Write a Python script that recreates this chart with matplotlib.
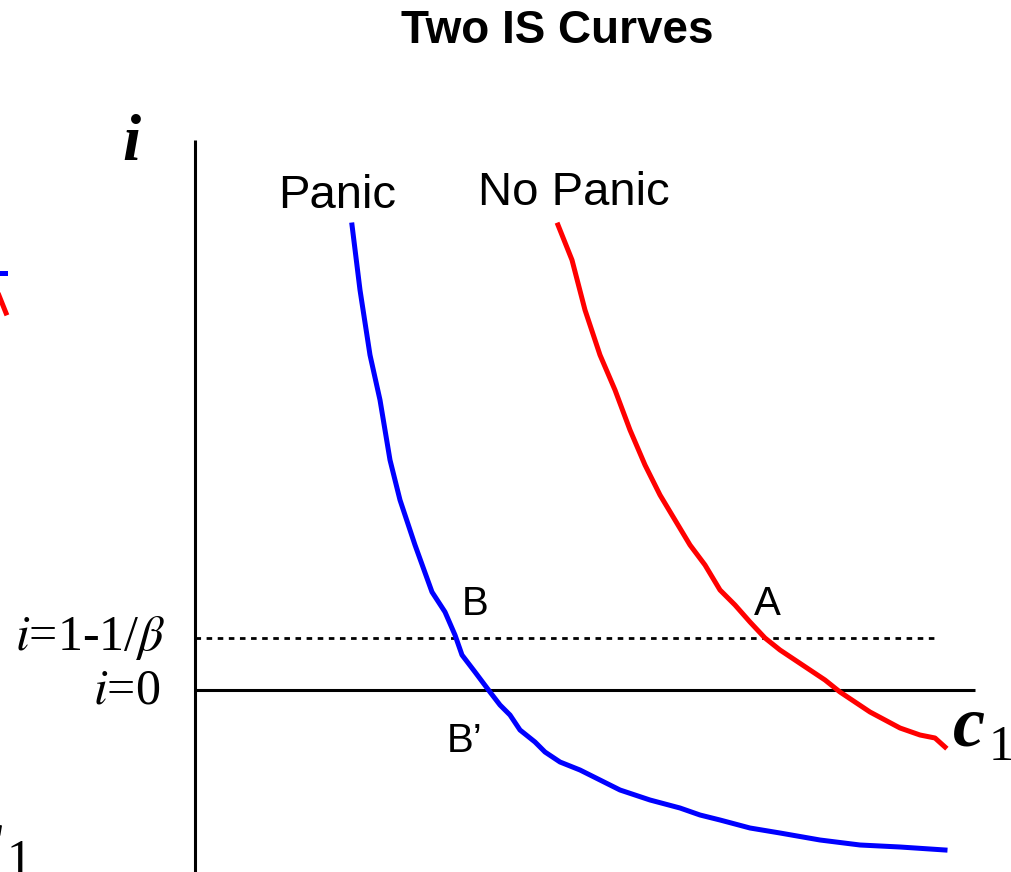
import matplotlib.pyplot as plt

# c1 and i values (c1 = 0 at the vertical axis, i = 0 at the horizontal axis)
panic_c = [1.57, 1.65, 1.75, 1.85, 1.95, 2.05, 2.2, 2.37, 2.5, 2.6, 2.67, 2.8, 2.95, 3.05,
           3.15, 3.25, 3.4, 3.5, 3.65, 3.85, 4.05, 4.25, 4.55, 4.85, 5.05, 5.25, 5.55, 5.85,
           6.25, 6.65, 7.05, 7.5]
panic_i = [4.65, 4.0, 3.35, 2.9, 2.3, 1.9, 1.45, 0.98, 0.78, 0.55, 0.35, 0.18, -0.02, -0.15,
           -0.25, -0.4, -0.52, -0.62, -0.72, -0.8, -0.9, -1.0, -1.1, -1.18, -1.25, -1.3, -1.38,
           -1.43, -1.5, -1.55, -1.57, -1.6]

nopanic_c = [3.63, 3.77, 3.9, 4.05, 4.2, 4.35, 4.5, 4.65, 4.8, 4.95, 5.1, 5.25, 5.4, 5.55,
             5.7, 5.85, 6.0, 6.15, 6.3, 6.45, 6.6, 6.75, 6.9, 7.05, 7.25, 7.4, 7.5]
nopanic_i = [4.65, 4.3, 3.8, 3.35, 3.0, 2.6, 2.25, 1.95, 1.7, 1.45, 1.25, 1.0, 0.85, 0.68,
             0.52, 0.4, 0.3, 0.2, 0.1, -0.02, -0.12, -0.22, -0.3, -0.38, -0.45, -0.48, -0.57]

i_beta = 0.52  # i = 1 - 1/beta
c_max = 7.8
i_top = 5.5

fig = plt.figure(figsize=(10.12, 8.72), dpi=100)
ax = fig.add_axes([0, 0, 1, 1])
ax.set_xlim(-1.95, 8.17)
ax.set_ylim(-1.82, 6.9)
ax.axis("off")

sans = "Liberation Sans"
serif = "Liberation Serif"

# axes
ax.plot([0, 0], [-1.82, i_top], color="black", lw=2.2, solid_capstyle="butt")
ax.plot([0, c_max], [0, 0], color="black", lw=2.2, solid_capstyle="butt")
ax.plot([0, 7.4], [i_beta, i_beta], color="black", lw=2, linestyle=(0, (2, 2)))

# curves
ax.plot(panic_c, panic_i, color="#0000ff", lw=3.6)
ax.plot(nopanic_c, nopanic_i, color="#ff0000", lw=3.6)

# bits of the previous slide cut off at the left edge
ax.plot([-1.97, -1.9], [4.17, 4.17], color="#0000ff", lw=3.6, clip_on=False)
ax.plot([-1.97, -1.89], [3.97, 3.77], color="#ff0000", lw=3.6, clip_on=False)
ax.text(-2.24, -1.67, "c", fontsize=52, fontfamily=serif, fontweight="bold",
        fontstyle="italic", ha="left", va="baseline")
ax.text(-1.88, -1.84, "1", fontsize=36, fontfamily=serif, ha="left", va="baseline")

fig.text(0.551, 0.965, "Two IS Curves", fontsize=33, fontweight="bold", fontfamily=sans,
         ha="center", va="center")

ax.text(-0.73, 5.3, "i", fontsize=47, fontfamily=serif, fontweight="bold",
        fontstyle="italic", ha="left", va="baseline")
ax.text(7.58, -0.55, "c", fontsize=52, fontfamily=serif, fontweight="bold",
        fontstyle="italic", ha="left", va="baseline")
ax.text(7.94, -0.7, "1", fontsize=36, fontfamily=serif, ha="left", va="baseline")

ax.text(1.42, 4.82, "Panic", fontsize=34, fontfamily=sans, ha="center", va="baseline")
ax.text(3.79, 4.85, "No Panic", fontsize=34, fontfamily=sans, ha="center", va="baseline")
ax.text(2.8, 0.75, "B", fontsize=29, fontfamily=sans, ha="center", va="baseline")
ax.text(5.72, 0.75, "A", fontsize=29, fontfamily=sans, ha="center", va="baseline")
ax.text(2.7, -0.62, "B\u2019", fontsize=29, fontfamily=sans, ha="center", va="baseline")

ax.text(-0.3, 0.4, "$i$=1-1/$\\beta$", fontsize=36, fontfamily=serif, ha="right",
        va="baseline", math_fontfamily="stix")
ax.text(-0.35, -0.13, "$i$=0", fontsize=36, fontfamily=serif, ha="right",
        va="baseline", math_fontfamily="stix")

fig.savefig("out.png", dpi=100)
